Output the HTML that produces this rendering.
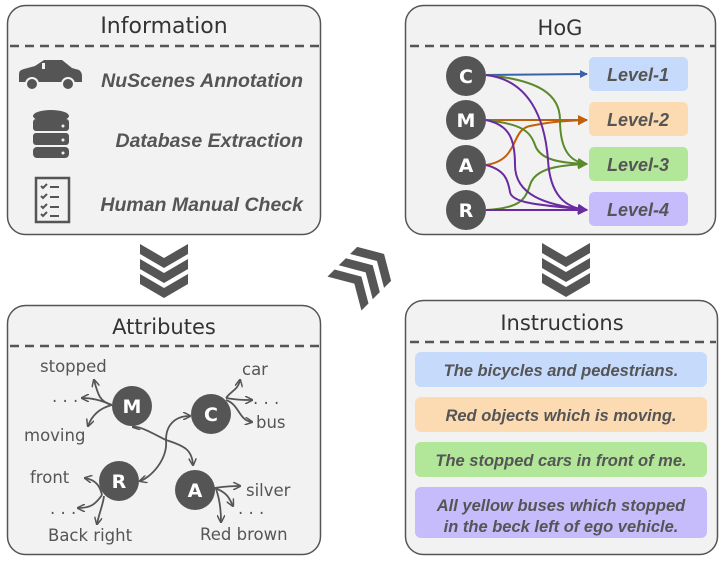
<!DOCTYPE html>
<html><head><meta charset="utf-8"><style>
html,body{margin:0;padding:0;background:#fff;}
svg{display:block;}
.t{font-family:"Liberation Sans",sans-serif;font-style:italic;font-weight:bold;fill:#555;}
.h{font-family:"DejaVu Sans","Liberation Sans",sans-serif;fill:#333;}
.hw{font-family:"DejaVu Sans","Liberation Sans",sans-serif;fill:#555;font-size:16.5px;}
.nl{font-family:"DejaVu Sans",sans-serif;fill:#fff;font-size:19px;font-weight:bold;text-anchor:middle;}
</style></head><body>
<svg width="722" height="563" viewBox="0 0 722 563" xmlns="http://www.w3.org/2000/svg">
<defs>
<marker id="ab" markerWidth="8" markerHeight="8" refX="7" refY="4" orient="auto" markerUnits="userSpaceOnUse"><path d="M0,0 L8,4 L0,8 z" fill="#3a62a8"/></marker>
<marker id="ao" markerWidth="10" markerHeight="10" refX="9" refY="5" orient="auto" markerUnits="userSpaceOnUse"><path d="M0,0 L10,5 L0,10 z" fill="#c0600a"/></marker>
<marker id="ag" markerWidth="10" markerHeight="10" refX="9" refY="5" orient="auto" markerUnits="userSpaceOnUse"><path d="M0,0 L10,5 L0,10 z" fill="#5a8a2a"/></marker>
<marker id="ap" markerWidth="10" markerHeight="10" refX="9" refY="5" orient="auto" markerUnits="userSpaceOnUse"><path d="M0,0 L10,5 L0,10 z" fill="#6a2aa0"/></marker>
<marker id="ak" markerWidth="8" markerHeight="8" refX="7" refY="4" orient="auto" markerUnits="userSpaceOnUse"><path d="M0,0 L8,4 L0,8" fill="none" stroke="#555" stroke-width="1.5"/></marker>
<g id="chev"><polygon points="-24,0 0,14 24,0 24,10 0,24 -24,10" fill="#555"/></g>
</defs>

<rect x="7.5" y="5.5" width="313" height="229" rx="18" fill="#f2f2f2" stroke="#555" stroke-width="1.5"/>
<text x="164" y="33" class="h" font-size="22" text-anchor="middle">Information</text>
<line x1="10" y1="46" x2="320" y2="46" stroke="#555" stroke-width="2.5" stroke-dasharray="9,6"/>
<path d="M19,80 L19,74 Q19,70 24,69 L35,66 L44,60 L62,60 L72,68 L79,70 Q82,72 82,76 L82,82 L19,82 Z" fill="#555"/>
<rect x="42" y="63" width="3" height="6" fill="#f2f2f2"/>
<circle cx="32" cy="84" r="6" fill="#555" stroke="#f2f2f2" stroke-width="2"/>
<circle cx="68" cy="84" r="6" fill="#555" stroke="#f2f2f2" stroke-width="2"/>
<ellipse cx="51" cy="116" rx="18" ry="6" fill="#555"/>
<rect x="33" y="119" width="36" height="12" rx="3" fill="#555"/>
<rect x="33" y="133" width="36" height="12" rx="3" fill="#555"/>
<rect x="33" y="147" width="36" height="11" rx="4" fill="#555"/>
<circle cx="63" cy="126" r="1.5" fill="#f2f2f2"/><circle cx="63" cy="140" r="1.5" fill="#f2f2f2"/><circle cx="63" cy="153" r="1.5" fill="#f2f2f2"/>
<rect x="36" y="178" width="33" height="44" fill="none" stroke="#555" stroke-width="2.5"/>
<g stroke="#555" stroke-width="2" fill="none">
<path d="M41,186 l2,2 l4,-4 M50,187 h9 M41,196 l2,2 l4,-4 M50,197 h9 M41,206 l2,2 l4,-4 M50,207 h9 M41,214 l2,2 l4,-4 M50,216 h9"/>
</g>
<text x="303" y="87" class="t" font-size="19.5" text-anchor="end">NuScenes Annotation</text>
<text x="303" y="147" class="t" font-size="19.5" text-anchor="end">Database Extraction</text>
<text x="303" y="211" class="t" font-size="19.5" text-anchor="end">Human Manual Check</text>

<use href="#chev" transform="translate(164,244)"/>
<use href="#chev" transform="translate(164,259)"/>
<use href="#chev" transform="translate(164,274)"/>
<use href="#chev" transform="translate(566,243)"/>
<use href="#chev" transform="translate(566,258)"/>
<use href="#chev" transform="translate(566,273)"/>
<g transform="translate(360,278) rotate(-135)">
<use href="#chev" transform="translate(0,-22)"/>
<use href="#chev" transform="translate(0,-6)"/>
<use href="#chev" transform="translate(0,10)"/>
</g>

<rect x="7.5" y="305.5" width="313" height="249" rx="18" fill="#f2f2f2" stroke="#555" stroke-width="1.5"/>
<text x="164" y="334" class="h" font-size="21" text-anchor="middle">Attributes</text>
<line x1="10" y1="346" x2="320" y2="346" stroke="#555" stroke-width="2.5" stroke-dasharray="9,6"/>
<g fill="none" stroke="#555" stroke-width="1.8">
<path d="M166,440 C150,432 140,426 133,427" marker-end="url(#ak)"/>
<path d="M166,440 C166,425 175,416 190,416" marker-end="url(#ak)"/>
<path d="M166,440 C168,460 150,478 140,481" marker-end="url(#ak)"/>
<path d="M166,440 C185,446 192,450 193,465" marker-end="url(#ak)"/>
<path d="M112,405 C100,402 98,395 94,380" marker-end="url(#ak)"/>
<path d="M112,405 C100,400 92,398 82,398" marker-end="url(#ak)"/>
<path d="M112,405 C100,408 92,415 88,426" marker-end="url(#ak)"/>
<path d="M226,398 C232,390 238,390 240,380" marker-end="url(#ak)"/>
<path d="M226,398 C238,400 244,400 252,400" marker-end="url(#ak)"/>
<path d="M226,400 C240,405 238,420 252,422" marker-end="url(#ak)"/>
<path d="M102,495 C100,486 96,480 85,478" marker-end="url(#ak)"/>
<path d="M102,495 C95,505 90,508 78,508" marker-end="url(#ak)"/>
<path d="M104,496 C103,505 100,510 97,524" marker-end="url(#ak)"/>
<path d="M214,488 C222,487 228,486 240,486" marker-end="url(#ak)"/>
<path d="M214,488 C228,492 230,500 233,506" marker-end="url(#ak)"/>
<path d="M216,489 C220,500 221,510 221,522" marker-end="url(#ak)"/>
</g>
<circle cx="132" cy="406" r="20" fill="#555"/><text x="132" y="413" class="nl">M</text>
<circle cx="211" cy="414" r="20" fill="#555"/><text x="211" y="421" class="nl">C</text>
<circle cx="119" cy="481" r="20" fill="#555"/><text x="119" y="488" class="nl">R</text>
<circle cx="195" cy="490" r="20" fill="#555"/><text x="195" y="497" class="nl">A</text>
<text x="40" y="372" class="hw">stopped</text>
<text x="52" y="402" class="hw">. . .</text>
<text x="24" y="441" class="hw">moving</text>
<text x="242" y="375" class="hw">car</text>
<text x="253" y="404" class="hw">. . .</text>
<text x="256" y="428" class="hw">bus</text>
<text x="30" y="483" class="hw">front</text>
<text x="50" y="514" class="hw">. . .</text>
<text x="48" y="541" class="hw">Back right</text>
<text x="246" y="496" class="hw">silver</text>
<text x="238" y="514" class="hw">. . .</text>
<text x="200" y="540" class="hw">Red brown</text>

<rect x="405.5" y="5.5" width="310" height="229" rx="18" fill="#f2f2f2" stroke="#555" stroke-width="1.5"/>
<text x="560" y="35" class="h" font-size="21" text-anchor="middle">HoG</text>
<line x1="410" y1="46" x2="715" y2="46" stroke="#555" stroke-width="2.5" stroke-dasharray="9,6"/>
<rect x="589" y="57" width="99" height="34" rx="5" fill="#c6dafc"/>
<rect x="589" y="102" width="99" height="34" rx="5" fill="#fddbb2"/>
<rect x="589" y="147" width="99" height="34" rx="5" fill="#b2e79a"/>
<rect x="589" y="192" width="99" height="34" rx="5" fill="#c6bcfb"/>
<text x="638" y="81" class="t" font-size="18" text-anchor="middle">Level-1</text>
<text x="638" y="126" class="t" font-size="18" text-anchor="middle">Level-2</text>
<text x="638" y="171" class="t" font-size="18" text-anchor="middle">Level-3</text>
<text x="638" y="216" class="t" font-size="18" text-anchor="middle">Level-4</text>
<g fill="none" stroke-width="2">
<path d="M486,75 L587,74" stroke="#3a62a8" marker-end="url(#ab)"/>
<path d="M486,120 L587,120" stroke="#c0600a" marker-end="url(#ao)"/>
<path d="M486,165 C520,160 510,130 530,126 C550,122 560,121 587,120" stroke="#c0600a" marker-end="url(#ao)"/>
<path d="M486,75 C540,80 560,95 560,120 C560,150 570,162 587,164" stroke="#5a8a2a" marker-end="url(#ag)"/>
<path d="M486,120 C520,124 530,130 535,145 C540,160 560,163 587,164" stroke="#5a8a2a" marker-end="url(#ag)"/>
<path d="M486,210 C520,208 525,200 530,185 C535,168 560,165 587,164" stroke="#5a8a2a" marker-end="url(#ag)"/>
<path d="M486,75 C530,80 545,120 548,160 C550,195 565,208 587,210" stroke="#6a2aa0" marker-end="url(#ap)"/>
<path d="M486,120 C510,125 515,140 515,165 C515,195 545,205 587,210" stroke="#6a2aa0" marker-end="url(#ap)"/>
<path d="M486,165 C505,170 508,180 510,192 C512,205 550,205 587,210" stroke="#6a2aa0" marker-end="url(#ap)"/>
<path d="M486,210 L587,210" stroke="#6a2aa0" marker-end="url(#ap)"/>
</g>
<circle cx="466" cy="76" r="20" fill="#555"/><text x="466" y="83" class="nl">C</text>
<circle cx="466" cy="120" r="20" fill="#555"/><text x="466" y="127" class="nl">M</text>
<circle cx="466" cy="165" r="20" fill="#555"/><text x="466" y="172" class="nl">A</text>
<circle cx="466" cy="210" r="20" fill="#555"/><text x="466" y="217" class="nl">R</text>

<rect x="405.5" y="300.5" width="312" height="254" rx="18" fill="#f2f2f2" stroke="#555" stroke-width="1.5"/>
<text x="562" y="330" class="h" font-size="21" text-anchor="middle">Instructions</text>
<line x1="410" y1="342" x2="716" y2="342" stroke="#555" stroke-width="2.5" stroke-dasharray="9,6"/>
<rect x="415" y="352" width="292" height="35" rx="6" fill="#c6dafc"/>
<rect x="415" y="397" width="292" height="35" rx="6" fill="#fddbb2"/>
<rect x="415" y="442" width="292" height="35" rx="6" fill="#b2e79a"/>
<rect x="415" y="487" width="292" height="51" rx="6" fill="#c6bcfb"/>
<text x="561" y="376" class="t" font-size="16.5" text-anchor="middle">The bicycles and pedestrians.</text>
<text x="561" y="421" class="t" font-size="16.5" text-anchor="middle">Red objects which is moving.</text>
<text x="561" y="466" class="t" font-size="16.5" text-anchor="middle">The stopped cars in front of me.</text>
<text x="561" y="511" class="t" font-size="16.5" text-anchor="middle">All yellow buses which stopped</text>
<text x="561" y="532" class="t" font-size="16.5" text-anchor="middle">in the beck left of ego vehicle.</text>
</svg>
</body></html>
